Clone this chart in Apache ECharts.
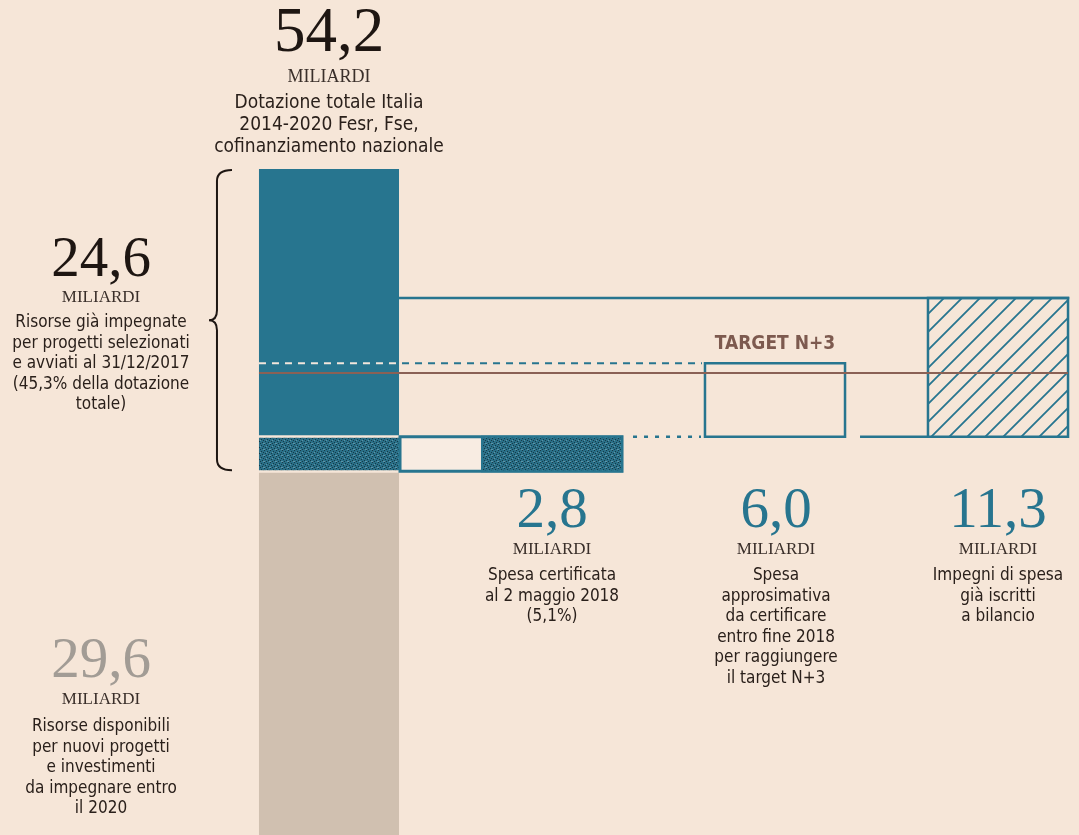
<!DOCTYPE html>
<html><head><meta charset="utf-8">
<script src="https://cdn.jsdelivr.net/npm/echarts@6/dist/echarts.min.js"></script>
<style>html,body{margin:0;padding:0;background:#f6e6d8;}#c{width:1079px;height:835px;}</style>
</head><body><div id="c"></div>
<script>
// ---- data ----
const categories = ['Dotazione totale', 'Spesa certificata', 'Target N+3', 'Impegni di spesa'];
const dotazioneTotale = 54.2;     // miliardi
const risorseImpegnate = 24.6;
const risorseDisponibili = 29.6;
const spesaCertificata = 2.8;
const spesaDaCertificare = 6.0;
const impegniBilancio = 11.3;
const targetN3 = 8.0;             // livello target N+3 sopra la base impegnata
const pctImpegnate = '45,3%';
const pctCertificata = '5,1%';

const fmt = v => v.toFixed(1).replace('.', ',');

// ---- style ----
const BG = '#f6e6d8', BLUE = '#27758f', BEIGE = '#d0c0b0', BROWN = '#8a6155', DARK = '#1e1612';
const SERIF = '"Liberation Serif","DejaVu Serif",serif';
const SANS = '"Liberation Sans Narrow","DejaVu Sans Condensed","Roboto Condensed",sans-serif';
const BAR = 0.628;

function speckle() {
  const c = document.createElement('canvas'); c.width = 6; c.height = 6;
  const g = c.getContext('2d');
  g.fillStyle = '#2a6f87'; g.fillRect(0, 0, 6, 6);
  g.fillStyle = '#153a48';
  [[0,0],[3,1],[1,3],[4,4],[5,2],[2,5]].forEach(p => g.fillRect(p[0], p[1], 1, 1));
  g.fillStyle = '#5d95a8';
  [[2,2],[5,5],[0,5]].forEach(p => g.fillRect(p[0], p[1], 1, 1));
  return c;
}
function hatch() {
  const s = 18, c = document.createElement('canvas'); c.width = s; c.height = s;
  const g = c.getContext('2d');
  g.strokeStyle = BLUE; g.lineWidth = 1.8;
  g.beginPath();
  g.moveTo(-2, s + 2); g.lineTo(s + 2, -2);
  g.moveTo(-2, 2); g.lineTo(2, -2);
  g.moveTo(s - 2, s + 2); g.lineTo(s + 2, s - 2);
  g.stroke();
  return c;
}
const SPECKLE = { image: speckle(), repeat: 'repeat' };
const HATCH = { image: hatch(), repeat: 'repeat' };

const base = risorseDisponibili;
const lvlCert = base + spesaCertificata;

function colX(api, i) {
  const c = api.coord([i, 0])[0];
  const w = api.size([1, 0])[0] * BAR;
  return [c - w / 2, c + w / 2];
}
function Y(api, v) { return api.coord([0, v])[1]; }

function rectSeries(name, data, fillFn) {
  return {
    type: 'custom', name, silent: true, data,
    renderItem(params, api) {
      const i = api.value(0), x = colX(api, i);
      const y0 = Y(api, api.value(1)), y1 = Y(api, api.value(2));
      return fillFn(x, y0, y1, api);
    }
  };
}

const series = [
  rectSeries('disponibili', [[0, 0, risorseDisponibili]], (x, y0, y1) => ({
    type: 'rect', shape: { x: x[0], y: y1 + 1.5, width: x[1] - x[0], height: y0 - y1 }, style: { fill: BEIGE }
  })),
  rectSeries('impegnate', [[0, lvlCert, base + risorseImpegnate]], (x, y0, y1) => ({
    type: 'rect', shape: { x: x[0], y: y1, width: x[1] - x[0], height: y0 - y1 - 1.5 }, style: { fill: BLUE }
  })),
  rectSeries('certificata-main', [[0, base, lvlCert]], (x, y0, y1) => ({
    type: 'rect', shape: { x: x[0], y: y1 + 1, width: x[1] - x[0], height: y0 - y1 - 2 }, style: { fill: SPECKLE }
  })),
  {
    type: 'custom', name: 'certificata', silent: true, data: [[1, base, lvlCert]],
    renderItem(params, api) {
      const x0 = colX(api, 0), x1 = colX(api, 1);
      const y0 = Y(api, api.value(1)), y1 = Y(api, api.value(2));
      return { type: 'group', children: [
        { type: 'rect', shape: { x: x0[1] + 1, y: y1, width: x1[1] - x0[1] - 1, height: y0 - y1 }, style: { fill: '#f8ece2', stroke: BLUE, lineWidth: 3 } },
        { type: 'rect', shape: { x: x1[0], y: y1, width: x1[1] - x1[0], height: y0 - y1 }, style: { fill: SPECKLE, stroke: BLUE, lineWidth: 2 } }
      ]};
    }
  },
  rectSeries('daCertificare', [[2, lvlCert, lvlCert + spesaDaCertificare]], (x, y0, y1) => ({
    type: 'rect', shape: { x: x[0], y: y1, width: x[1] - x[0], height: y0 - y1 }, style: { fill: 'none', stroke: BLUE, lineWidth: 2.5 }
  })),
  rectSeries('impegni', [[3, lvlCert, lvlCert + impegniBilancio]], (x, y0, y1) => ({
    type: 'rect', shape: { x: x[0], y: y1, width: x[1] - x[0], height: y0 - y1 }, style: { fill: HATCH, stroke: BLUE, lineWidth: 2.5 }
  })),
  {
    type: 'custom', name: 'lines', silent: true, data: [[0, lvlCert + impegniBilancio, lvlCert + spesaDaCertificare, base + targetN3]],
    renderItem(params, api) {
      const c0 = colX(api, 0), c1 = colX(api, 1), c2 = colX(api, 2), c3 = colX(api, 3);
      const yTop = Y(api, api.value(1)), yDash = Y(api, api.value(2)), yT = Y(api, api.value(3));
      const yC = Y(api, lvlCert);
      const yB0 = Y(api, base), yB1 = Y(api, dotazioneTotale);
      const bx = c0[0] - 42, tip = c0[0] - 50, ex = c0[0] - 27, ym = (yB0 + yB1) / 2;
      const brace = `M${ex} ${yB1 + 1} Q${bx} ${yB1 + 1} ${bx} ${yB1 + 12} L${bx} ${ym - 10} Q${bx} ${ym} ${tip} ${ym} Q${bx} ${ym} ${bx} ${ym + 10} L${bx} ${yB0 - 12} Q${bx} ${yB0 - 1} ${ex} ${yB0 - 1}`;
      return { type: 'group', children: [
        { type: 'line', shape: { x1: c0[1], y1: yTop, x2: c3[1] + 1.2, y2: yTop }, style: { stroke: BLUE, lineWidth: 2.5 } },
        { type: 'line', shape: { x1: c0[0], y1: yDash, x2: c0[1], y2: yDash }, style: { stroke: '#f3e6dc', lineWidth: 2, lineDash: [7, 6] } },
        { type: 'line', shape: { x1: c0[1] + 3, y1: yDash, x2: c2[0] - 3, y2: yDash }, style: { stroke: BLUE, lineWidth: 2, lineDash: [7, 6] } },
        { type: 'line', shape: { x1: c1[1] + 11, y1: yC, x2: c2[0] - 4, y2: yC }, style: { stroke: BLUE, lineWidth: 2.5, lineDash: [4, 7] } },
        { type: 'line', shape: { x1: c2[1] + 15, y1: yC, x2: c3[0], y2: yC }, style: { stroke: BLUE, lineWidth: 2.5 } },
        { type: 'line', shape: { x1: c0[0], y1: yT, x2: c3[1], y2: yT }, style: { stroke: BROWN, lineWidth: 2 } },
        { type: 'path', shape: { pathData: brace }, style: { fill: 'none', stroke: DARK, lineWidth: 2 } }
      ]};
    }
  }
];

// ---- text blocks ----
function block(cx, yNum, num, numSize, numColor, yMil, milSize, lines, yLine0, lh, txtSize) {
  const els = [
    { type: 'text', x: cx, y: yNum, style: { text: num, font: `${numSize}px ${SERIF}`, fill: numColor, align: 'center', verticalAlign: 'middle' } },
    { type: 'text', x: cx, y: yMil, style: { text: 'MILIARDI', font: `${milSize}px ${SERIF}`, fill: '#3a2f2a', align: 'center', verticalAlign: 'middle' } }
  ];
  lines.forEach((t, k) => els.push({ type: 'text', x: cx, y: yLine0 + k * lh,
    style: { text: t, font: `${txtSize}px ${SANS}`, fill: '#2a201b', align: 'center', verticalAlign: 'middle' } }));
  return els;
}
const graphics = [].concat(
  block(329, 34, fmt(dotazioneTotale), 63, DARK, 77, 18, ['Dotazione totale Italia', '2014-2020 Fesr, Fse,', 'cofinanziamento nazionale'], 103, 22, 19),
  block(101, 261, fmt(risorseImpegnate), 57, DARK, 298, 17, ['Risorse già impegnate', 'per progetti selezionati', 'e avviati al 31/12/2017', `(${pctImpegnate} della dotazione`, 'totale)'], 323, 20.5, 17),
  block(101, 662, fmt(risorseDisponibili), 57, '#a29c95', 700, 17, ['Risorse disponibili', 'per nuovi progetti', 'e investimenti', 'da impegnare entro', 'il 2020'], 727, 20.5, 17),
  block(552, 512, fmt(spesaCertificata), 57, BLUE, 550, 17, ['Spesa certificata', 'al 2 maggio 2018', `(${pctCertificata})`], 576, 20.5, 17),
  block(776, 512, fmt(spesaDaCertificare), 57, BLUE, 550, 17, ['Spesa', 'approsimativa', 'da certificare', 'entro fine 2018', 'per raggiungere', 'il target N+3'], 576, 20.5, 17),
  block(998, 512, fmt(impegniBilancio), 57, BLUE, 550, 17, ['Impegni di spesa', 'già iscritti', 'a bilancio'], 576, 20.5, 17),
  [{ type: 'text', x: 775, y: 344, style: { text: 'TARGET N+3', font: `bold 19px ${SANS}`, fill: '#7d5a4f', align: 'center', verticalAlign: 'middle' } }]
);

const chart = echarts.init(document.getElementById('c'));
chart.setOption({
  backgroundColor: BG,
  animation: false,
  grid: { left: 0, right: 0, top: 169, bottom: 0 },
  // column index axis: columns 0..3 are centred 223 px apart, first at x≈329
  xAxis: { type: 'value', min: -1.4753, max: 3.3632, show: false },
  yAxis: { type: 'value', min: 0, max: dotazioneTotale, show: false },
  series,
  graphic: graphics
});
</script></body></html>
